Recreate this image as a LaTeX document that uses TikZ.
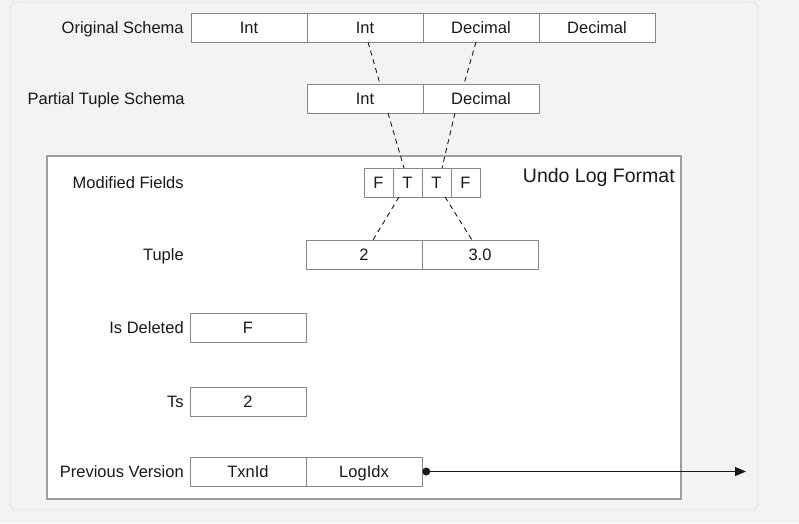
\documentclass[tikz,border=0pt]{standalone}
\usepackage{fontspec}
\setmainfont{Liberation Sans}
\usetikzlibrary{positioning}
\usetikzlibrary{arrows.meta}
\usetikzlibrary{calc}

\definecolor{pagebg}{RGB}{242,243,245}
\definecolor{panelline}{RGB}{224,226,229}
\definecolor{cellline}{RGB}{135,135,135}
\definecolor{boxline}{RGB}{158,158,158}
\definecolor{ink}{RGB}{25,25,25}

\begin{document}
\begin{tikzpicture}[x=1pt,y=-1pt,semithick,
  txt/.style={font=\fontsize{16.5}{19}\selectfont,text=ink,text height=11.8pt,text depth=0pt},
  cell/.style={txt,rectangle,draw=cellline,line width=0.9pt,fill=white,inner sep=0,outer sep=0,minimum width=116pt,minimum height=29pt},
  flag/.style={cell,minimum width=29pt},
  lbl/.style={txt,anchor=east,inner sep=0},
  link/.style={draw=ink,line width=0.9pt,dash pattern=on 5pt off 4pt},
  pointer/.style={draw=ink,line width=1pt,-{Triangle[length=11pt,width=9pt]}}]
  \fill[pagebg] (0,0) rectangle (799,523);
  \useasboundingbox (0,0) rectangle (799,523);
  \draw[panelline,line width=0.8pt,rounded corners=7pt] (10,2) rectangle (758,510);
  % undo log frame
  \node[draw=boxline,line width=1.6pt,fill=white,inner sep=0,minimum width=634pt,minimum height=343pt] (undolog) at (364,327.5) {};
  \node[txt,font=\fontsize{19.5}{22}\selectfont,text height=13.8pt,anchor=north east,inner sep=0] (undotitle) at (675,168) {Undo Log Format};
  % schemas
  \node[cell] (oi1) at (249,27.5) {Int};
  \node[cell,right=0pt of oi1] (oi2) {Int};
  \node[cell,right=0pt of oi2] (od1) {Decimal};
  \node[cell,right=0pt of od1] (od2) {Decimal};
  \node[cell] (pi1) at (365,98.5) {Int};
  \node[cell,right=0pt of pi1] (pd2) {Decimal};
  % log fields
  \node[flag] (mf1) at (378.5,182.5) {F};
  \node[flag,right=0pt of mf1] (mf2) {T};
  \node[flag,right=0pt of mf2] (mf3) {T};
  \node[flag,right=0pt of mf3] (mf4) {F};
  \node[cell] (tu1) at (364,254.5) {2};
  \node[cell,right=0pt of tu1] (tu2) {3.0};
  \node[cell] (isdel) at (248,327.5) {F};
  \node[cell] (ts) at (248,401.5) {2};
  \node[cell] (pv1) at (248,471.5) {TxnId};
  \node[cell,right=0pt of pv1] (pv2) {LogIdx};
  % labels
  \node[lbl] (loriginal) at (184,27.5) {Original Schema};
  \node[lbl] (lpartial) at (185,98.5) {Partial Tuple Schema};
  \node[lbl] (lmodified) at (184,182.5) {Modified Fields};
  \node[lbl] (ltuple) at (184,254.5) {Tuple};
  \node[lbl] (lisdel) at (184,327.5) {Is Deleted};
  \node[lbl] (lts) at (184,401.5) {Ts};
  \node[lbl] (lprev) at (184,471.5) {Previous Version};
  % dashed links
  \path[link] ($(oi2.south)+(3,0)$) -- ($(pi1.north)+(15,0)$);
  \path[link] ($(od1.south)+(-5,0)$) -- ($(pd2.north)+(-17,0)$);
  \path[link] ($(pi1.south)+(23,0)$) -- ($(mf2.north)+(-3.5,0)$);
  \path[link] ($(pd2.south)+(-26,0)$) -- ($(mf3.north)+(5.5,0)$);
  \path[link] ($(mf2.south)+(-8.5,0)$) -- ($(tu1.north)+(9,0)$);
  \path[link] ($(mf3.south)+(8.5,0)$) -- ($(tu2.north)+(-8,0)$);
  % previous version pointer
  \node[circle,fill=ink,inner sep=0,minimum size=8pt,right=0pt of pv2] (pvdot) {};
  \coordinate (pvend) at (746,471.5);
  \path[pointer] (pvdot.center) -- (pvend);
\end{tikzpicture}
\end{document}
